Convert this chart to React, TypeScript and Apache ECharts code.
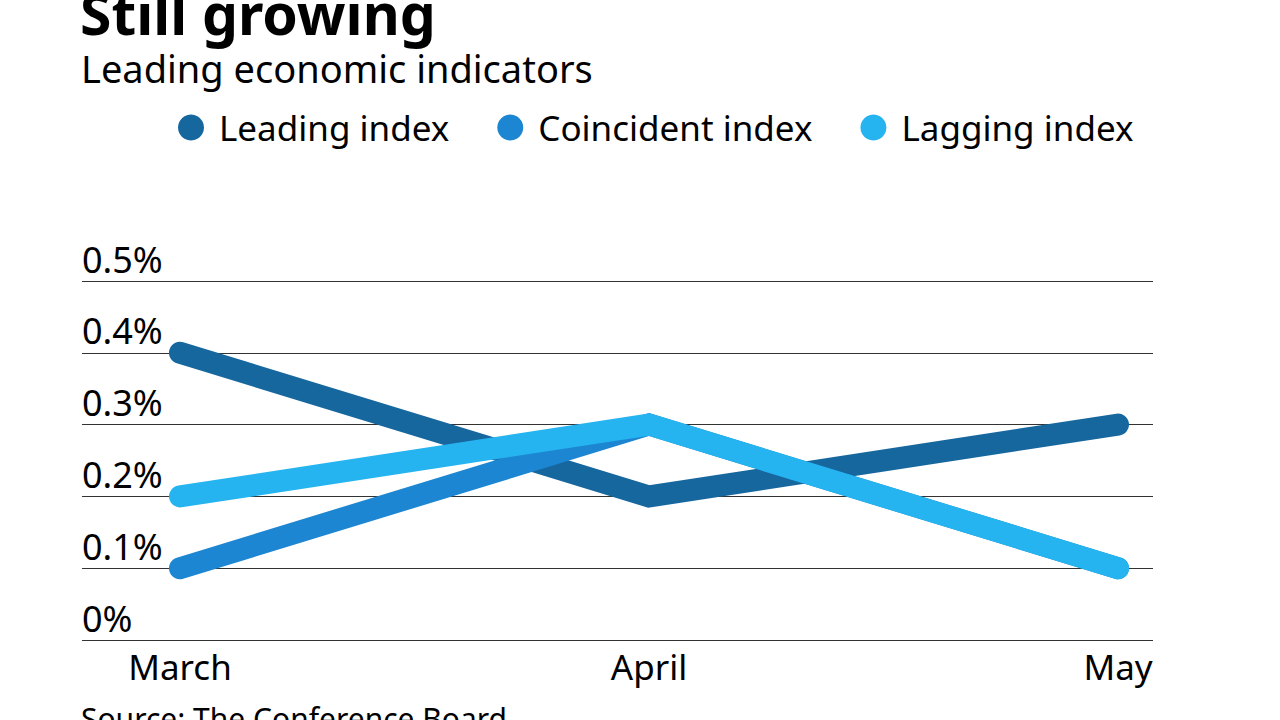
import React, { useEffect, useRef } from "react";
import * as echarts from "echarts";

const categories = ["March", "April", "May"];
const leadingIndex = [0.4, 0.2, 0.3];
const coincidentIndex = [0.1, 0.3, 0.1];
const laggingIndex = [0.2, 0.3, 0.1];
const seriesNames = ["Leading index", "Coincident index", "Lagging index"];
const colors = ["#17679f", "#1c86d2", "#25b4ef"];

const FONT = "'Noto Sans', sans-serif";

export default function App() {
  const ref = useRef<HTMLDivElement>(null);
  useEffect(() => {
    if (!ref.current) return;
    const chart = echarts.init(ref.current, undefined, { renderer: "svg" });
    const lineSeries = (name: string, data: number[], color: string) => ({
      name,
      type: "line",
      xAxisIndex: 1,
      yAxisIndex: 1,
      data,
      symbol: "none",
      color,
      lineStyle: { width: 22, color, cap: "round", join: "miter" },
    });
    chart.setOption({
      animation: false,
      backgroundColor: "#ffffff",
      textStyle: { fontFamily: FONT },
      graphic: [
        {
          type: "text",
          left: 80,
          top: -16,
          style: { text: "Still growing", font: `bold 57px ${FONT}`, lineHeight: 48, fill: "#000" },
        },
        {
          type: "text",
          left: 81,
          top: 49,
          style: { text: "Leading economic indicators", font: `38px ${FONT}`, fill: "#000" },
        },
        {
          type: "text",
          left: 81,
          top: 703,
          style: { text: "Source: The Conference Board", font: `30px ${FONT}`, fill: "#000" },
        },
      ],
      legend: {
        top: 105,
        left: 173,
        itemGap: 48,
        icon: "circle",
        itemWidth: 26,
        itemHeight: 26,
        data: seriesNames,
        textStyle: { fontSize: 35, color: "#000", fontFamily: FONT, padding: [0, 0, 0, 10] },
      },
      grid: [
        { left: 82, right: 127, top: 281, bottom: 80 },
        { left: 180, right: 162, top: 281, bottom: 80 },
      ],
      xAxis: [
        { type: "category", gridIndex: 0, data: categories, show: false },
        {
          type: "category",
          gridIndex: 1,
          data: categories,
          boundaryGap: false,
          axisLine: { show: false },
          axisTick: { show: false },
          axisLabel: { fontSize: 35, color: "#000", margin: 9, fontFamily: FONT },
        },
      ],
      yAxis: [
        {
          type: "value",
          gridIndex: 0,
          min: 0,
          max: 0.5,
          interval: 0.1,
          axisLine: { show: false },
          axisTick: { show: false },
          splitLine: { lineStyle: { color: "#333", width: 1 } },
          axisLabel: {
            inside: true,
            margin: 0,
            verticalAlign: "bottom",
            fontSize: 36,
            color: "#000",
            fontFamily: FONT,
            padding: [0, 0, 4, 0],
            formatter: (v: number) => `${Math.round(v * 10) / 10}%`,
          },
        },
        {
          type: "value",
          gridIndex: 1,
          min: 0,
          max: 0.5,
          interval: 0.1,
          show: false,
          splitLine: { show: false },
        },
      ],
      series: [
        lineSeries(seriesNames[0], leadingIndex, colors[0]),
        lineSeries(seriesNames[1], coincidentIndex, colors[1]),
        lineSeries(seriesNames[2], laggingIndex, colors[2]),
      ],
    });
    return () => chart.dispose();
  }, []);
  return (
    <div
      ref={ref}
      style={{ position: "fixed", left: 0, top: 0, width: 1280, height: 720, background: "#fff" }}
    />
  );
}
